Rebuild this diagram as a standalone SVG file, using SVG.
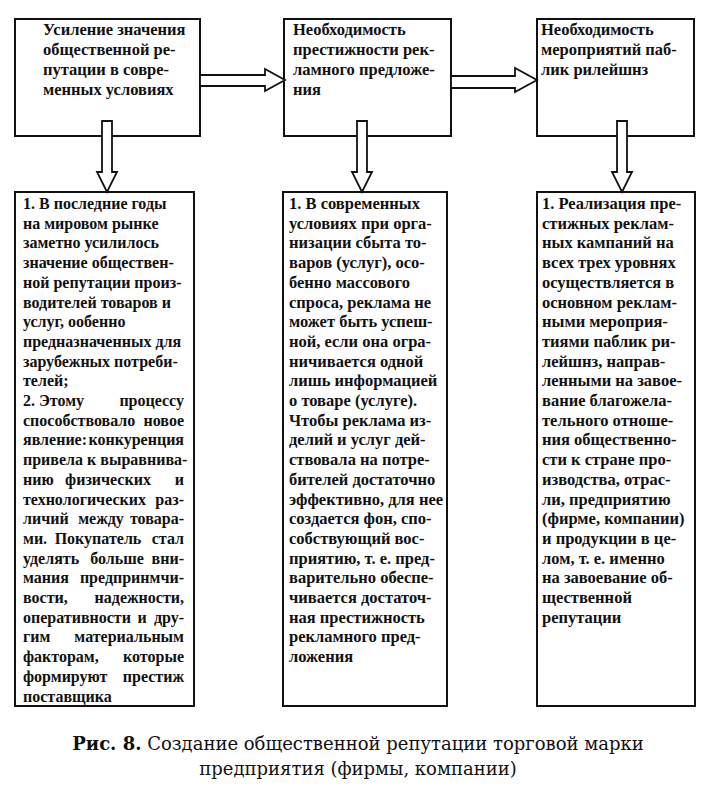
<svg xmlns="http://www.w3.org/2000/svg" width="703" height="800" viewBox="0 0 703 800">
<style>
.box{fill:#fff;stroke:#111;stroke-width:2}
.arrow{fill:#fff;stroke:#111;stroke-width:1.8;stroke-linejoin:miter}
.t{font-family:"Liberation Serif","Times New Roman",serif;font-size:16.5px;font-weight:bold;fill:#111}
.t1{font-size:16px}
.e{text-anchor:end}
.m{text-anchor:middle}
.cap{font-family:"DejaVu Serif","Liberation Serif",serif;font-size:18px;fill:#111;text-anchor:middle}
</style>
<rect width="703" height="800" fill="#fff"/>

<g id="node-top1">
<rect class="box" x="15" y="19" width="185" height="117"/>
<text class="t" x="43" y="35"><tspan x="43" y="35">Усиление значения</tspan><tspan x="43" y="55">общественной ре-</tspan><tspan x="43" y="75">путации в совре-</tspan><tspan x="43" y="95">менных условиях</tspan></text>
</g>
<g id="node-top2">
<rect class="box" x="284" y="19" width="167" height="117"/>
<text class="t" x="293" y="35"><tspan x="293" y="35">Необходимость</tspan><tspan x="293" y="55">престижности рек-</tspan><tspan x="293" y="75">ламного предложе-</tspan><tspan x="293" y="95">ния</tspan></text>
</g>
<g id="node-top3">
<rect class="box" x="537" y="19" width="157" height="117"/>
<text class="t" x="541" y="35"><tspan x="541" y="35">Необходимость</tspan><tspan x="541" y="55">мероприятий паб-</tspan><tspan x="541" y="75">лик рилейшнз</tspan></text>
</g>

<g id="node-bottom1">
<rect class="box" x="15" y="192" width="179" height="514"/>
<text class="t t1">
<tspan x="23" y="209">1. В последние годы</tspan>
<tspan x="23" y="228.7">на мировом рынке</tspan>
<tspan x="23" y="248.4">заметно усилилось</tspan>
<tspan x="23" y="268.1">значение обществен-</tspan>
<tspan x="23" y="287.8">ной репутации произ-</tspan>
<tspan x="23" y="307.5">водителей товаров и</tspan>
<tspan x="23" y="327.2">услуг, ообенно</tspan>
<tspan x="23" y="346.9">предназначенных для</tspan>
<tspan x="23" y="366.6">зарубежных потреби-</tspan>
<tspan x="23" y="386.3">телей;</tspan>
<tspan x="23" y="406">2. Этому </tspan><tspan class="e" x="188" y="406">процессу</tspan>
<tspan x="23" y="425.7">способствовало </tspan><tspan class="e" x="188" y="425.7">новое</tspan>
<tspan x="23" y="445.4">явление: </tspan><tspan class="e" x="188" y="445.4">конкуренция</tspan>
<tspan x="23" y="465.1">привела к выравнива-</tspan>
<tspan x="23" y="484.8">нию </tspan><tspan class="m" x="108" y="484.8">физических</tspan><tspan class="e" x="188" y="484.8"> и</tspan>
<tspan x="23" y="504.5">технологических </tspan><tspan class="e" x="188" y="504.5">раз-</tspan>
<tspan x="23" y="524.2">личий </tspan><tspan class="m" x="101" y="524.2">между</tspan><tspan class="e" x="188" y="524.2"> товара-</tspan>
<tspan x="23" y="543.9">ми. </tspan><tspan class="m" x="98" y="543.9">Покупатель</tspan><tspan class="e" x="188" y="543.9"> стал</tspan>
<tspan x="23" y="563.6">уделять </tspan><tspan class="m" x="117" y="563.6">больше</tspan><tspan class="e" x="188" y="563.6"> вни-</tspan>
<tspan x="23" y="583.3">мания </tspan><tspan class="e" x="188" y="583.3">предпринмчи-</tspan>
<tspan x="23" y="603">вости, </tspan><tspan class="e" x="188" y="603">надежности,</tspan>
<tspan x="23" y="622.7">оперативности </tspan><tspan class="m" x="142" y="622.7">и</tspan><tspan class="e" x="188" y="622.7"> дру-</tspan>
<tspan x="23" y="642.4">гим </tspan><tspan class="e" x="188" y="642.4">материальным</tspan>
<tspan x="23" y="662.1">факторам, </tspan><tspan class="e" x="188" y="662.1">которые</tspan>
<tspan x="23" y="681.8">формируют </tspan><tspan class="e" x="188" y="681.8">престиж</tspan>
<tspan x="23" y="701.5">поставщика</tspan>
</text>
</g>

<g id="node-bottom2">
<rect class="box" x="283" y="192" width="164" height="514"/>
<text class="t">
<tspan x="289" y="209">1. В современных</tspan>
<tspan x="289" dy="19.7">условиях при орга-</tspan>
<tspan x="289" dy="19.7">низации сбыта то-</tspan>
<tspan x="289" dy="19.7">варов (услуг), осо-</tspan>
<tspan x="289" dy="19.7">бенно массового</tspan>
<tspan x="289" dy="19.7">спроса, реклама не</tspan>
<tspan x="289" dy="19.7">может быть успеш-</tspan>
<tspan x="289" dy="19.7">ной, если она огра-</tspan>
<tspan x="289" dy="19.7">ничивается одной</tspan>
<tspan x="289" dy="19.7">лишь информацией</tspan>
<tspan x="289" dy="19.7">о товаре (услуге).</tspan>
<tspan x="289" dy="19.7">Чтобы реклама из-</tspan>
<tspan x="289" dy="19.7">делий и услуг дей-</tspan>
<tspan x="289" dy="19.7">ствовала на потре-</tspan>
<tspan x="289" dy="19.7">бителей достаточно</tspan>
<tspan x="289" dy="19.7">эффективно, для нее</tspan>
<tspan x="289" dy="19.7">создается фон, спо-</tspan>
<tspan x="289" dy="19.7">собствующий вос-</tspan>
<tspan x="289" dy="19.7">приятию, т. е. пред-</tspan>
<tspan x="289" dy="19.7">варительно обеспе-</tspan>
<tspan x="289" dy="19.7">чивается достаточ-</tspan>
<tspan x="289" dy="19.7">ная престижность</tspan>
<tspan x="289" dy="19.7">рекламного пред-</tspan>
<tspan x="289" dy="19.7">ложения</tspan>
</text>
</g>

<g id="node-bottom3">
<rect class="box" x="537" y="192" width="158" height="514"/>
<text class="t">
<tspan x="542" y="209">1. Реализация пре-</tspan>
<tspan x="542" dy="19.7">стижных реклам-</tspan>
<tspan x="542" dy="19.7">ных кампаний на</tspan>
<tspan x="542" dy="19.7">всех трех уровнях</tspan>
<tspan x="542" dy="19.7">осуществляется в</tspan>
<tspan x="542" dy="19.7">основном реклам-</tspan>
<tspan x="542" dy="19.7">ными мероприя-</tspan>
<tspan x="542" dy="19.7">тиями паблик ри-</tspan>
<tspan x="542" dy="19.7">лейшнз, направ-</tspan>
<tspan x="542" dy="19.7">ленными на завое-</tspan>
<tspan x="542" dy="19.7">вание благожела-</tspan>
<tspan x="542" dy="19.7">тельного отноше-</tspan>
<tspan x="542" dy="19.7">ния общественно-</tspan>
<tspan x="542" dy="19.7">сти к стране про-</tspan>
<tspan x="542" dy="19.7">изводства, отрас-</tspan>
<tspan x="542" dy="19.7">ли, предприятию</tspan>
<tspan x="542" dy="19.7">(фирме, компании)</tspan>
<tspan x="542" dy="19.7">и продукции в це-</tspan>
<tspan x="542" dy="19.7">лом, т. е. именно</tspan>
<tspan x="542" dy="19.7">на завоевание об-</tspan>
<tspan x="542" dy="19.7">щественной</tspan>
<tspan x="542" dy="19.7">репутации</tspan>
</text>
</g>

<g id="connectors">
<polygon class="arrow" points="200,75 265,75 265,69 285,80 265,91 265,86 200,86"/>
<polygon class="arrow" points="451,76 515,76 515,68 537,80 515,92 515,88 451,88"/>
<polygon class="arrow" points="102,121 112,121 112,172 117,172 107,192 97,172 102,172"/>
<polygon class="arrow" points="357,121 367,121 367,172 372,172 362,192 352,172 357,172"/>
<polygon class="arrow" points="617,121 627,121 627,172 632,172 622,192 612,172 617,172"/>
</g>

<g id="caption">
<text class="cap" x="358" y="750"><tspan font-weight="bold">Рис. 8.</tspan> Создание общественной репутации торговой марки</text>
<text class="cap" x="358" y="775">предприятия (фирмы, компании)</text>
</g>
</svg>
